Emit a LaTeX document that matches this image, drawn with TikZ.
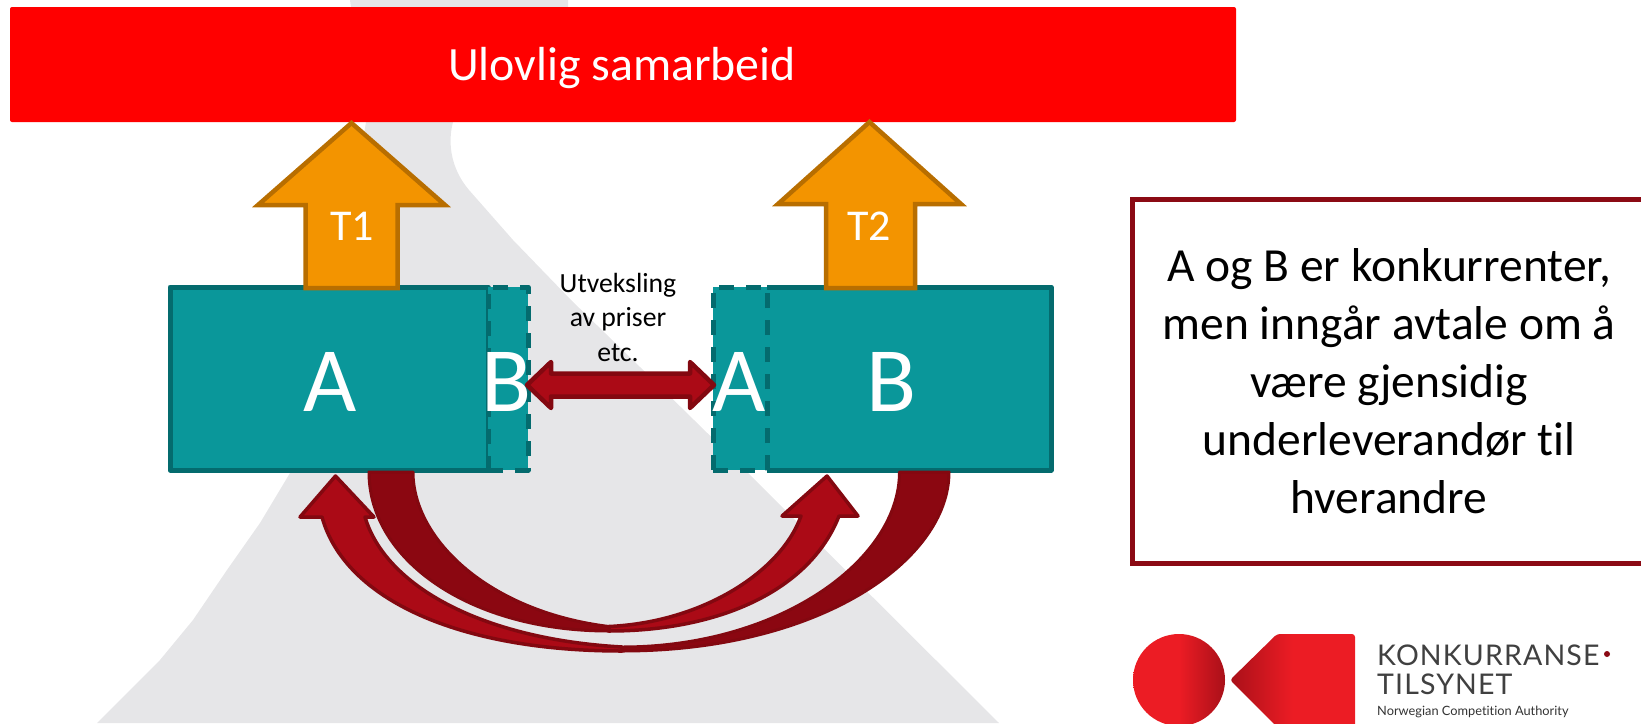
\documentclass[tikz,border=0pt]{standalone}
\usepackage{fontspec}
\setmainfont{Carlito}[Ligatures=NoCommon]
\newfontfamily\logofont{Lato}[Ligatures=NoCommon]
\newfontfamily\logocaps{Lato}[LetterSpace=4]

\definecolor{bgGray}{HTML}{E6E6E8}
\definecolor{boxTeal}{HTML}{0A979A}
\definecolor{boxLine}{HTML}{046B6E}
\definecolor{wineLight}{HTML}{AB0A16}
\definecolor{wineDark}{HTML}{8B0711}
\definecolor{wineLine}{HTML}{830810}
\definecolor{upFill}{HTML}{F39400}
\definecolor{upLine}{HTML}{B86E00}
\definecolor{noteLine}{HTML}{8B0A14}
\definecolor{logoRed}{HTML}{EC1C24}
\definecolor{logoDark}{HTML}{A91019}
\def\bigSize{\fontsize{92}{92}\selectfont}

\tikzset{
  firmbox/.style={rectangle,fill=boxTeal,draw=boxLine,line width=5pt,line join=round,inner sep=0pt,outer sep=0pt},
  partbox/.style={firmbox,dashed,dash pattern=on 15pt off 12pt},
  firmlabel/.style={text=white,inner sep=0pt,font=\bigSize},
  uparrow/.style={fill=upFill,draw=upLine,line width=4.5pt},
  swaparrow/.style={fill=wineLight,draw=wineLine,line width=4.5pt,line join=round},
  bendlight/.style={fill=wineLight,draw=wineLine,line width=3.5pt,line join=round},
  benddark/.style={fill=wineDark,draw=wineLine,line width=3pt,line join=round},
  uplabel/.style={text=white,font=\fontsize{44}{44}\selectfont}
}

\begin{document}
\begin{tikzpicture}[x=1pt,y=-1pt]
    \useasboundingbox (0,0) rectangle (1641,723);
    \clip (0,0) rectangle (1641,723);

    % Watermark behind everything
    \fill[bgGray] (350,0) -- (568,0) -- (568,10) -- (453,122)
        .. controls (447,145) and (452,170) .. (469,190)
        -- (513,240) -- (571,300) -- (640,367) -- (748,473) -- (999,723)
        -- (97,723) -- (127,693) -- (160,660) -- (193,620) -- (227,570) -- (260,523) -- (290,473)
        -- (340,280) -- (366,122) -- cycle;

    % Top bar
    \node[rectangle,fill=red,rounded corners=2pt,minimum width=1226pt,minimum height=115pt,inner sep=0pt] (bar) at (623,64.5) {};
    \node[text=white,font=\fontsize{47.8}{47.8}\selectfont] (bartext) at (622,68) {Ulovlig samarbeid};

    % Firms
    \node[firmbox,minimum width=318pt,minimum height=183pt] (firmA) at (329,378.5) {};
    \node[firmbox,draw=none,minimum width=284pt,minimum height=183pt] (firmB) at (909,378.5) {};
    \draw[boxLine,line width=5pt,line join=round] (firmB.north west) -- (firmB.north east) -- (firmB.south east) -- (firmB.south west);
    \node[partbox,minimum width=40pt,minimum height=183pt] (partB) at (508,378.5) {};
    \node[partbox,minimum width=54pt,minimum height=183pt] (partA) at (740,378.5) {};
    \node[firmlabel] (labelA) at (330,382) {A};
    \node[firmlabel] (labelB) at (892,382) {B};
    \node[firmlabel] (partlabelB) at (507,382) {B};
    \node[firmlabel] (partlabelA) at (739,382) {A};

    % Upward arrows
    \filldraw[uparrow] (351.5,123) -- (445,205) -- (397.5,205) -- (397.5,288) -- (305.5,288) -- (305.5,205) -- (258,205) -- cycle;
    \filldraw[uparrow] (869.5,122) -- (961,204) -- (915,204) -- (915,288) -- (826,288) -- (826,204) -- (778,204) -- cycle;
    \node[uplabel] (t1) at (352,226) {T1};
    \node[uplabel] (t2) at (869,226) {T2};

    % Exchange between the firms
    \filldraw[swaparrow] (527,385) -- (551,362) -- (551,373.5) -- (690,373.5) -- (690,362) -- (714,385)
        -- (690,408) -- (690,396.5) -- (551,396.5) -- (551,408) -- cycle;
    \node[align=center,font=\fontsize{27.7}{34.5}\selectfont] (swaptext) at (618,317) {Utveksling\\av priser\\etc.};

    % Outer bent arrow, B to A
    \filldraw[bendlight] (335.5,476) -- (374,517) -- (365,517)
        .. controls (385,585) and (480,639) .. (622,647)
        -- (622,651) .. controls (460,651) and (345,600) .. (322,517)
        -- (300,517) -- cycle;
    \filldraw[benddark] (949,472) .. controls (949,560) and (820,651) .. (622,651)
        -- (622,647) .. controls (780,647) and (899.5,560) .. (899.5,472) -- cycle;

    % Inner bent arrow, A to B
    \filldraw[bendlight] (827,476) -- (858,516) -- (839,516)
        .. controls (810,590) and (720,631) .. (609,631)
        -- (609,626.5) .. controls (705,622) and (782,570) .. (801,516)
        -- (782,516) -- cycle;
    \filldraw[benddark] (369,472) .. controls (369,560) and (470,631) .. (609,631)
        -- (609,626.5) .. controls (490,612) and (413,540) .. (413,472) -- cycle;

    % Explanation
    \node[rectangle,draw=noteLine,fill=white,line width=5pt,minimum width=518pt,minimum height=364pt,inner sep=0pt] (note) at (1391,381) {};
    \node[align=center,font=\fontsize{47.5}{58}\selectfont] (notetext) at (1389,381) {A og B er konkurrenter,\\men inng\r{a}r avtale om \r{a}\\v\ae re gjensidig\\underleverand\o r til\\hverandre};

    % Logo
    \shade[left color=logoRed,right color=logoDark,middle color=logoRed] (1179,680) circle (46);
    \shade[left color=logoDark,right color=logoRed,middle color=logoRed,rounded corners=3pt]
        (1230,680) -- (1277,634) -- (1355,634) -- (1355,730) -- (1280,730) -- cycle;
    \node[anchor=base west,inner sep=0pt,text=black!75,font=\logocaps\fontsize{28.5}{28.5}\selectfont] (logoA) at (1377,665) {KONKURRANSE};
    \fill[noteLine] (1607,654) circle (3);
    \node[anchor=base west,inner sep=0pt,text=black!75,font=\logocaps\fontsize{28.5}{28.5}\selectfont] (logoB) at (1377,694) {TILSYNET};
    \node[anchor=base west,inner sep=0pt,text=black!80,font=\logofont\fontsize{12.8}{12.8}\selectfont] (logoC) at (1377,715) {Norwegian Competition Authority};
\end{tikzpicture}
\end{document}
